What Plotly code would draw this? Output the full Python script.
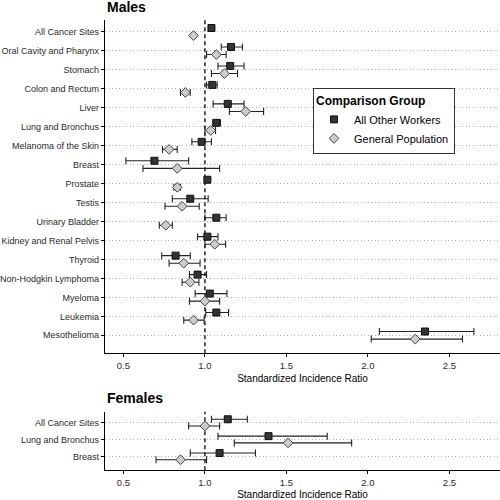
import plotly.graph_objects as go

FONT = "Liberation Sans, Arial, sans-serif"

# ---------------- data ----------------
cats_m = ["All Cancer Sites", "Oral Cavity and Pharynx", "Stomach", "Colon and Rectum",
          "Liver", "Lung and Bronchus", "Melanoma of the Skin", "Breast", "Prostate",
          "Testis", "Urinary Bladder", "Kidney and Renal Pelvis", "Thyroid",
          "Non-Hodgkin Lymphoma", "Myeloma", "Leukemia", "Mesothelioma"]
m_aow = [1.04, 1.16, 1.155, 1.045, 1.14, 1.07, 0.98, 0.69, 1.015, 0.91, 1.07, 1.015, 0.82, 0.955, 1.03, 1.07, 2.35]
m_aow_lo = [1.025, 1.10, 1.08, 1.01, 1.05, 1.05, 0.92, 0.515, 1.0, 0.80, 1.00, 0.955, 0.735, 0.905, 0.94, 1.005, 2.07]
m_aow_hi = [1.055, 1.23, 1.24, 1.075, 1.24, 1.095, 1.04, 0.90, 1.03, 1.02, 1.13, 1.08, 0.91, 1.01, 1.135, 1.145, 2.65]
m_gp = [0.93, 1.07, 1.12, 0.88, 1.25, 1.035, 0.78, 0.83, 0.83, 0.86, 0.76, 1.06, 0.87, 0.91, 1.0, 0.93, 2.29]
m_gp_lo = [0.92, 1.01, 1.04, 0.85, 1.15, 1.00, 0.74, 0.62, 0.81, 0.755, 0.72, 1.00, 0.78, 0.86, 0.905, 0.87, 2.02]
m_gp_hi = [0.94, 1.13, 1.20, 0.91, 1.36, 1.065, 0.83, 1.09, 0.85, 0.965, 0.80, 1.127, 0.97, 0.963, 1.09, 0.995, 2.58]

cats_f = ["All Cancer Sites", "Lung and Bronchus", "Breast"]
f_aow = [1.14, 1.39, 1.09]
f_aow_lo = [1.04, 1.08, 0.91]
f_aow_hi = [1.26, 1.75, 1.31]
f_gp = [1.0, 1.51, 0.85]
f_gp_lo = [0.90, 1.18, 0.70]
f_gp_hi = [1.09, 1.90, 1.01]

x_ticks = [0.5, 1.0, 1.5, 2.0, 2.5]
groups = ["All Other Workers", "General Population"]

# ---------------- styles ----------------
SQ_FILL, SQ_LINE = "#333333", "#111111"
DI_FILL, DI_LINE = "#cccccc", "#444444"
ERR_COL = "#222222"
DODGE = 0.2

fig = go.Figure()


def add_group(vals, lo, hi, n, offset, name, symbol, fill, line, size, xa, ya, show):
    pos = [i + offset for i in range(n)]
    fig.add_trace(go.Scatter(
        x=vals, y=pos, mode="markers", name=name, legendgroup=name, showlegend=show,
        xaxis=xa, yaxis=ya,
        marker=dict(symbol=symbol, size=size, color=fill, line=dict(color=line, width=1)),
        error_x=dict(type="data", symmetric=False,
                     array=[h - v for h, v in zip(hi, vals)],
                     arrayminus=[v - l for v, l in zip(vals, lo)],
                     color=ERR_COL, thickness=1.1, width=3.5),
    ))


# Males panel
add_group(m_aow, m_aow_lo, m_aow_hi, len(cats_m), -DODGE, groups[0], "square", SQ_FILL, SQ_LINE, 7, "x", "y", True)
add_group(m_gp, m_gp_lo, m_gp_hi, len(cats_m), DODGE, groups[1], "diamond", DI_FILL, DI_LINE, 7.5, "x", "y", True)
# Females panel
add_group(f_aow, f_aow_lo, f_aow_hi, len(cats_f), -DODGE, groups[0], "square", SQ_FILL, SQ_LINE, 7, "x2", "y2", False)
add_group(f_gp, f_gp_lo, f_gp_hi, len(cats_f), DODGE, groups[1], "diamond", DI_FILL, DI_LINE, 7.5, "x2", "y2", False)

xcommon = dict(range=[0.387, 2.81], tickvals=x_ticks, ticktext=[f"{t:.1f}" for t in x_ticks],
               showgrid=False, zeroline=False, showline=True, linecolor="black", linewidth=1.2,
               ticks="outside", ticklen=3, tickcolor="black", tickwidth=1,
               tickfont=dict(family=FONT, size=9.5, color="#2a2a2a"),
               title=dict(text="Standardized Incidence Ratio",
                          font=dict(family=FONT, size=10, color="black"), standoff=5))
ycommon = dict(showgrid=True, gridcolor="#b0b0b0", griddash="1px,2.5px", gridwidth=1,
               zeroline=False, showline=True, linecolor="black", linewidth=1.2,
               ticks="outside", ticklen=3, tickcolor="black", tickwidth=1,
               tickfont=dict(family=FONT, size=9, color="#2a2a2a"))

fig.update_layout(
    width=500, height=500, margin=dict(l=0, r=0, t=0, b=0),
    paper_bgcolor="white", plot_bgcolor="white",
    font=dict(family=FONT, color="black"),
    xaxis=dict(domain=[0.21, 1.0], anchor="y", **xcommon),
    yaxis=dict(domain=[0.288, 0.96], anchor="x", range=[16.94, -0.63],
               tickvals=list(range(len(cats_m))), ticktext=cats_m, **ycommon),
    xaxis2=dict(domain=[0.21, 1.0], anchor="y2", **xcommon),
    yaxis2=dict(domain=[0.052, 0.17], anchor="x2", range=[2.82, -0.65],
                tickvals=list(range(len(cats_f))), ticktext=cats_f, **ycommon),
    legend=dict(x=0.626, y=0.822, xanchor="left", yanchor="top",
                bgcolor="white", bordercolor="#333333", borderwidth=1,
                font=dict(family=FONT, size=11, color="black"),
                title=dict(text="<b>Comparison Group</b>", font=dict(family=FONT, size=12, color="black")),
                tracegroupgap=0),
    shapes=[
        dict(type="line", xref="x", yref="y domain", x0=1, x1=1, y0=0, y1=1,
             line=dict(color="black", width=1.3, dash="4px,3px"), layer="below"),
        dict(type="line", xref="x2", yref="y2 domain", x0=1, x1=1, y0=0, y1=1,
             line=dict(color="black", width=1.3, dash="4px,3px"), layer="below"),
    ],
    annotations=[
        dict(text="<b>Males</b>", x=0.21, y=0.986, xref="paper", yref="paper",
             xanchor="left", yanchor="middle", showarrow=False,
             font=dict(family=FONT, size=14, color="black")),
        dict(text="<b>Females</b>", x=0.21, y=0.198, xref="paper", yref="paper",
             xanchor="left", yanchor="middle", showarrow=False,
             font=dict(family=FONT, size=14, color="black")),
    ],
)

fig.write_html("out.html",
               config={"displayModeBar": False},
               post_script="document.body.style.margin='0';document.body.style.padding='0';"
                           "document.documentElement.style.overflow='hidden';")
